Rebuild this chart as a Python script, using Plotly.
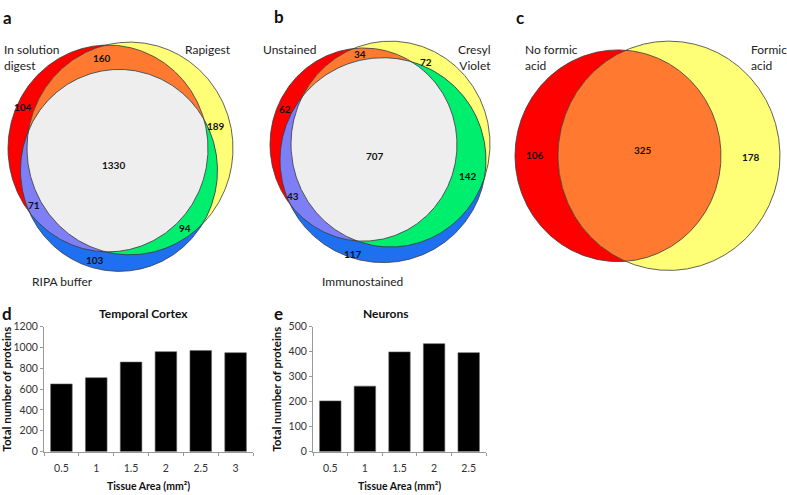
import numpy as np
import plotly.graph_objects as go

# ---- data ----
venn_regions3 = ["A", "B", "C", "AB", "BC", "AC", "ABC"]
venn_a_sets = ["In solution<br>digest", "Rapigest", "RIPA buffer"]
venn_a_counts = [104, 189, 103, 160, 94, 71, 1330]
venn_b_sets = ["Unstained", "Cresyl<br>Violet", "Immunostained"]
venn_b_counts = [62, 72, 117, 34, 142, 43, 707]
venn_regions2 = ["A", "B", "AB"]
venn_c_sets = ["No formic<br>acid", "Formic<br>acid"]
venn_c_counts = [106, 178, 325]

cortex_area = ["0.5", "1", "1.5", "2", "2.5", "3"]
cortex_proteins = [650, 710, 860, 960, 970, 950]
neuron_area = ["0.5", "1", "1.5", "2", "2.5"]
neuron_proteins = [203, 262, 399, 432, 396]

# ---- layout of the venn panels (pixel space of the figure) ----
W, H = 787, 495
FONT = "Lato"
colors = {"A": "#FF0000", "B": "#FFFF77", "C": "#1E70F0", "AB": "#FF7A30",
          "BC": "#00EE6E", "AC": "#7E7EF5", "ABC": "#EEEEEE"}

# ellipses: cx, cy, rx, ry
geom_a = {"A": (108, 146, 100, 106), "B": (130, 146, 103, 109), "C": (119, 168.5, 98.5, 103.5)}
geom_b = {"A": (363.5, 142, 93.5, 99), "B": (390.5, 141.5, 99.5, 105.5), "C": (383, 158, 103, 105)}
geom_c = {"A": (618, 153.5, 103, 108.5), "B": (669, 153.5, 111, 117.5)}

lab_a = {"A": (23, 104), "B": (216, 123), "C": (95, 260), "AB": (102, 53),
         "BC": (185, 227), "AC": (34, 204), "ABC": (113, 163)}
lab_b = {"A": (285, 106), "B": (426, 57), "C": (353, 254), "AB": (360, 49),
         "BC": (468, 174), "AC": (293, 195), "ABC": (375, 154)}
lab_c = {"A": (535, 153), "B": (751, 155), "AB": (643, 148)}


def region(ells, n=1440):
    # intersection of ellipses -> convex polygon
    xs, ys = [], []
    t = np.linspace(0, 2 * np.pi, n, endpoint=False)
    for i, (cx, cy, rx, ry) in enumerate(ells):
        x = cx + rx * np.cos(t)
        y = cy + ry * np.sin(t)
        keep = np.ones(n, bool)
        for j, (ox, oy, orx, ory) in enumerate(ells):
            if j != i:
                keep &= ((x - ox) / orx) ** 2 + ((y - oy) / ory) ** 2 <= 1 + 1e-9
        xs.append(x[keep])
        ys.append(y[keep])
    x = np.concatenate(xs)
    y = np.concatenate(ys)
    ang = np.arctan2(y - y.mean(), x - x.mean())
    o = np.argsort(ang)
    return np.append(x[o], x[o][0]), np.append(y[o], y[o][0])


fig = go.Figure()


def draw_venn(geom, regions, counts, labels):
    for key in regions:
        px, py = region([geom[k] for k in key])
        fig.add_trace(go.Scatter(x=px, y=py, fill="toself", fillcolor=colors[key],
                                 mode="lines", line=dict(width=0), hoverinfo="skip",
                                 xaxis="x3", yaxis="y3", showlegend=False))
    for key in geom:
        px, py = region([geom[key]])
        fig.add_trace(go.Scatter(x=px, y=py, mode="lines", line=dict(color="#3a3a3a", width=0.8),
                                 hoverinfo="skip", xaxis="x3", yaxis="y3", showlegend=False))
    for key, c in zip(regions, counts):
        fig.add_annotation(x=labels[key][0], y=labels[key][1], xref="x3", yref="y3",
                           text="<b>%d</b>" % c, showarrow=False,
                           font=dict(family=FONT, size=10, color="#111"))


draw_venn(geom_a, venn_regions3, venn_a_counts, lab_a)
draw_venn(geom_b, venn_regions3, venn_b_counts, lab_b)
draw_venn(geom_c, venn_regions2, venn_c_counts, lab_c)

# set names
name_pos = [(venn_a_sets[0], 2, 53, "left"), (venn_a_sets[1], 233, 45, "right"),
            (venn_a_sets[2], 62, 282, "center"),
            (venn_b_sets[0], 261, 45, "left"), (venn_b_sets[1], 493, 53, "right"),
            (venn_b_sets[2], 362, 282, "center"),
            (venn_c_sets[0], 523, 53, "left"), (venn_c_sets[1], 749, 53, "left")]
for txt, x, y, al in name_pos:
    fig.add_annotation(x=x, y=y, xref="x3", yref="y3", text=txt, showarrow=False,
                       xanchor=al, align=al, font=dict(family=FONT, size=12, color="#222"))

# panel letters
for txt, x, y in [("a", 1, 12), ("b", 272, 11), ("c", 514, 12), ("d", 0, 315), ("e", 272, 315)]:
    fig.add_annotation(x=x, y=y, xref="x3", yref="y3", text="<b>%s</b>" % txt, showarrow=False,
                       xanchor="left", font=dict(family=FONT, size=17, color="#111"))

# ---- bar panels ----
fig.add_trace(go.Bar(x=cortex_area, y=cortex_proteins, marker=dict(color="black", line=dict(color="#666", width=0.6)),
                     xaxis="x", yaxis="y", showlegend=False))
fig.add_trace(go.Bar(x=neuron_area, y=neuron_proteins, marker=dict(color="black", line=dict(color="#666", width=0.6)),
                     xaxis="x2", yaxis="y2", showlegend=False))

for txt, x in [("<b>Temporal Cortex</b>", 143), ("<b>Neurons</b>", 385)]:
    fig.add_annotation(x=x, y=315, xref="x3", yref="y3", text=txt, showarrow=False,
                       font=dict(family=FONT, size=12, color="#111"))

ybot, ytop = 1 - 456.7 / H, 1 - 328.6 / H
tick_font = dict(family=FONT, size=10.5, color="#333")
xcommon = dict(type="category", showline=True, linecolor="#999", ticks="outside", ticklen=3,
               tickcolor="#999", tickson="boundaries", tickfont=tick_font, showgrid=False,
               ticklabelstandoff=7,
               title=dict(text="<b>Tissue Area (mm²)</b>",
                          font=dict(family=FONT, size=10.5, color="#111"), standoff=9))
ycommon = dict(showline=True, linecolor="#999", ticks="outside", ticklen=3, tickcolor="#999",
               tickfont=tick_font, showgrid=False, zeroline=False,
               title=dict(text="<b>Total number of proteins</b>",
                          font=dict(family=FONT, size=11.5, color="#111"), standoff=4))

fig.update_layout(
    width=W, height=H, margin=dict(l=0, r=0, t=0, b=0),
    paper_bgcolor="white", plot_bgcolor="rgba(0,0,0,0)", bargap=0.38,
    xaxis=dict(domain=[44 / W, 253 / W], anchor="y", **xcommon),
    yaxis=dict(domain=[ybot, ytop], anchor="x", range=[0, 1200], dtick=200, **ycommon),
    xaxis2=dict(domain=[313 / W, 486 / W], anchor="y2", **xcommon),
    yaxis2=dict(domain=[ybot, ytop], anchor="x2", range=[0, 500], dtick=100, **ycommon),
    xaxis3=dict(domain=[0, 1], anchor="y3", range=[0, W], visible=False, fixedrange=True),
    yaxis3=dict(domain=[0, 1], anchor="x3", range=[H, 0], visible=False, fixedrange=True),
)

# the page body has a default margin; remove it so the figure fills the window
fig.write_html("out.html", config={"displayModeBar": False},
               post_script="document.body.style.margin='0';")
